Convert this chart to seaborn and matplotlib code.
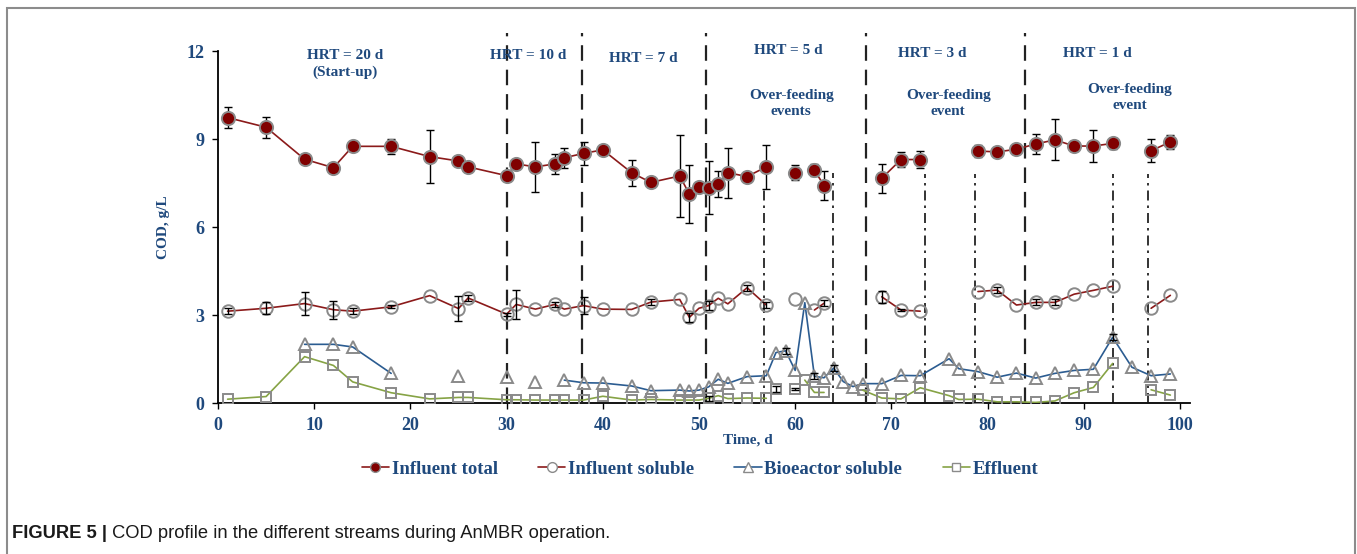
import numpy as np
import pandas as pd
import matplotlib
matplotlib.use("Agg")
import matplotlib.pyplot as plt
import seaborn as sns
from matplotlib.lines import Line2D
from matplotlib.patches import Rectangle

# ---------------- data ----------------
t_inf = [1, 5, 9, 12, 14, 18, 22, 25, 26, 30, 31, 33, 35, 36, 38, 40, 43, 45, 48, 49, 50,
         51, 52, 53, 55, 57, 60, 62, 63, 69, 71, 73, 79, 81, 83, 85, 87, 89, 91, 93, 97, 99]
seg_inf = [0] * 26 + [1] + [2, 2] + [3, 3, 3] + [4] * 8 + [5, 5]

total_v = [9.73, 9.40, 8.31, 8.02, 8.75, 8.75, 8.40, 8.25, 8.05, 7.75, 8.15, 8.05, 8.15, 8.36,
           8.51, 8.63, 7.85, 7.52, 7.74, 7.12, 7.35, 7.34, 7.47, 7.85, 7.72, 8.05, 7.85, 7.94,
           7.41, 7.66, 8.30, 8.30, 8.59, 8.56, 8.65, 8.83, 8.97, 8.76, 8.76, 8.85, 8.60, 8.90]
total_err = [0.35, 0.35, 0, 0, 0, 0.25, 0.9, 0, 0, 0, 0, 0.85, 0.35, 0.35, 0.4, 0.15, 0.45,
             0.15, 1.4, 1.0, 0, 0.9, 0.45, 0.85, 0.15, 0.75, 0.25, 0.2, 0.5, 0.5, 0.25, 0.3,
             0.2, 0, 0, 0.35, 0.7, 0, 0.55, 0.2, 0.4, 0.25]

sol_v = [3.13, 3.23, 3.39, 3.18, 3.13, 3.28, 3.66, 3.22, 3.58, 3.03, 3.36, 3.20, 3.36, 3.20,
         3.32, 3.20, 3.19, 3.44, 3.53, 2.92, 3.23, 3.32, 3.57, 3.38, 3.93, 3.34, 3.53, 3.17,
         3.40, 3.62, 3.17, 3.13, 3.80, 3.85, 3.34, 3.43, 3.43, 3.71, 3.84, 3.98, 3.23, 3.67]
sol_err = [0.1, 0.2, 0.4, 0.3, 0.1, 0.05, 0, 0.43, 0.1, 0.05, 0.5, 0, 0.1, 0, 0.3, 0, 0, 0.1,
           0, 0.15, 0, 0.15, 0, 0, 0.1, 0.1, 0, 0, 0.1, 0.2, 0.05, 0, 0, 0.1, 0, 0.1, 0.1, 0,
           0, 0, 0, 0]

t_bio = [9, 12, 14, 18, 25, 30, 33, 36, 38, 40, 43, 45, 48, 49, 50, 51, 52, 53, 55, 57, 58,
         59, 60, 61, 62, 63, 64, 65, 66, 67, 69, 71, 73, 76, 77, 79, 81, 83, 85, 87, 89, 91,
         93, 95, 97, 99]
bio_v = [2.0, 2.0, 1.91, 1.01, 0.93, 0.88, 0.73, 0.78, 0.69, 0.68, 0.58, 0.42, 0.44, 0.41,
         0.44, 0.55, 0.81, 0.67, 0.90, 0.93, 1.72, 1.78, 1.11, 3.42, 0.91, 0.86, 1.19, 0.73,
         0.56, 0.66, 0.66, 0.94, 0.93, 1.51, 1.17, 1.07, 0.88, 1.02, 0.85, 1.01, 1.11, 1.15,
         2.24, 1.22, 0.93, 0.99]
bio_err = [0] * 21 + [0.1] + [0, 0, 0.1, 0, 0.1] + [0] * 15 + [0.1, 0, 0, 0]
seg_bio = [0, 0, 0, 0, 1, 2, 3] + [4] * 39

t_eff = [1, 5, 9, 12, 14, 18, 22, 25, 26, 30, 31, 33, 35, 36, 38, 40, 43, 45, 48, 49, 50,
         51, 52, 53, 55, 57, 58, 60, 61, 62, 63, 67, 69, 71, 73, 76, 77, 79, 81, 83, 85, 87,
         89, 91, 93, 97, 99]
eff_v = [0.13, 0.22, 1.58, 1.28, 0.72, 0.35, 0.14, 0.19, 0.19, 0.11, 0.11, 0.10, 0.10, 0.10,
         0.10, 0.23, 0.10, 0.12, 0.10, 0.10, 0.10, 0.16, 0.25, 0.15, 0.17, 0.16, 0.48, 0.48,
         0.78, 0.36, 0.36, 0.44, 0.17, 0.14, 0.52, 0.25, 0.12, 0.13, 0.04, 0.04, 0.02, 0.07,
         0.35, 0.53, 1.35, 0.45, 0.27]
eff_err = [0] * 21 + [0.08] + [0] * 4 + [0.1, 0.04] + [0] * 19
seg_eff = [0] * 26 + [1, 2] + [3, 3, 3] + [4] * 14 + [5, 5]

hrt_bounds = [30, 37.8, 50.7, 67.4, 83.9]
overfeed_x = [56.8, 63.9, 73.5, 78.7, 93.0, 96.7]
overfeed_top = [7.35, 7.85, 7.8, 7.8, 7.8, 7.8]

labels = ["Influent total", "Influent soluble", "Bioeactor soluble", "Effluent"]

# ---------------- style ----------------
sns.set_theme(style="white")
plt.rcParams["font.family"] = ["Liberation Serif", "DejaVu Serif"]
BLUE = "#1F497D"
RED_LINE = "#8B1A1A"
RED_FILL = "#800000"
BIO_LINE = "#2B5C91"
EFF_LINE = "#86A345"
EDGE = "#8A8A8A"

W, H = 1357, 554
fig = plt.figure(figsize=(W / 100, H / 100), dpi=100)
ax = fig.add_axes([218 / W, 1 - 403 / H, 971.6 / W, 352 / H])


def draw(t, v, err, seg, lcolor, marker, ms, mfc, z, err_z):
    df = pd.DataFrame(dict(t=t, v=v, seg=seg))
    sns.lineplot(data=df, x="t", y="v", units="seg", estimator=None, sort=False,
                 color=lcolor, lw=1.2, marker=marker, markersize=ms,
                 markerfacecolor=mfc, markeredgecolor=EDGE, markeredgewidth=1.4,
                 ax=ax, legend=False, zorder=z)
    t_a, v_a, e_a = np.array(t), np.array(v), np.array(err)
    m = e_a > 0
    ax.errorbar(t_a[m], v_a[m], yerr=e_a[m], fmt="none", ecolor="black",
                elinewidth=1.0, capsize=3, capthick=1.0, zorder=err_z)


draw(t_inf, total_v, total_err, seg_inf, RED_LINE, "o", 9.5, RED_FILL, 5, 4)
draw(t_inf, sol_v, sol_err, seg_inf, RED_LINE, "o", 9, "none", 5, 6)
draw(t_bio, bio_v, bio_err, seg_bio, BIO_LINE, "^", 9, "none", 5, 6)
draw(t_eff, eff_v, eff_err, seg_eff, EFF_LINE, "s", 6.5, "none", 5, 6)

# vertical HRT boundaries and over-feeding markers
for xb in hrt_bounds:
    ax.plot([xb, xb], [0, 12.6], ls=(0, (7, 4)), color="#222222", lw=1.6,
            clip_on=False, zorder=3)
for xo, top in zip(overfeed_x, overfeed_top):
    ax.plot([xo, xo], [0, top], ls=(0, (6, 3, 1.5, 3)), color="#111111", lw=1.2, zorder=3)

ax.set_xlim(0, 101)
ax.set_ylim(0, 12)
ax.set_xticks(range(0, 101, 10))
ax.set_yticks([0, 3, 6, 9, 12])
ax.set_xlabel("")
ax.set_ylabel("")
for s in ["top", "right"]:
    ax.spines[s].set_visible(False)
for s in ["left", "bottom"]:
    ax.spines[s].set_color("black")
    ax.spines[s].set_linewidth(1.3)
ax.tick_params(axis="both", direction="out", length=4, width=1, color="black",
               labelcolor=BLUE, labelsize=13, bottom=True, left=True)
for lab in ax.get_xticklabels() + ax.get_yticklabels():
    lab.set_fontweight("bold")
ax.tick_params(axis="x", pad=6)
ax.tick_params(axis="y", pad=6)

ax.text(0.545, -0.105, "Time, d", transform=ax.transAxes, ha="center", va="center",
        fontsize=11, fontweight="bold", color=BLUE)
ax.text(-0.0566, 0.5, "COD, g/L", transform=ax.transAxes, ha="center", va="center",
        rotation=90, fontsize=11, fontweight="bold", color=BLUE)

ann = dict(ha="center", va="center", fontsize=11, fontweight="bold", color=BLUE,
           clip_on=False)
ax.text(13.2, 11.83, "HRT = 20 d", **ann)
ax.text(13.2, 11.29, "(Start-up)", **ann)
ax.text(32.2, 11.83, "HRT = 10 d", **ann)
ax.text(44.2, 11.76, "HRT = 7 d", **ann)
ax.text(59.3, 12.0, "HRT = 5 d", **ann)
ax.text(59.6, 10.22, "Over-feeding\nevents", linespacing=1.3, **ann)
ax.text(74.2, 11.93, "HRT = 3 d", **ann)
ax.text(75.9, 10.22, "Over-feeding\nevent", linespacing=1.3, **ann)
ax.text(91.4, 11.93, "HRT = 1 d", **ann)
ax.text(94.8, 10.42, "Over-feeding\nevent", linespacing=1.3, **ann)

# legend
handles = [
    Line2D([], [], color=RED_LINE, lw=1.2, marker="o", ms=7, mfc=RED_FILL, mec=EDGE),
    Line2D([], [], color=RED_LINE, lw=1.2, marker="o", ms=7, mfc="white", mec=EDGE),
    Line2D([], [], color=BIO_LINE, lw=1.2, marker="^", ms=7, mfc="white", mec=EDGE),
    Line2D([], [], color=EFF_LINE, lw=1.2, marker="s", ms=6, mfc="white", mec=EDGE),
]
leg = ax.legend(handles, labels, loc="center", bbox_to_anchor=(0.496, -0.1875), ncol=4,
                frameon=False, handlelength=1.45, handletextpad=0.15, columnspacing=2.15,
                prop=dict(family="Liberation Serif", weight="bold", size=13.5))
for txt in leg.get_texts():
    txt.set_color(BLUE)

# figure frame and caption
fig.add_artist(Rectangle((7 / W, -0.1), 1348 / W, 1.1 - 8 / H, transform=fig.transFigure,
                         fill=False, ec="#8C8C8C", lw=1.5))
t1 = fig.text(12 / W, 1 - 533 / H, "FIGURE 5 |", fontsize=13.2, fontweight="bold",
              family="Liberation Sans", color="#1a1a1a", va="center", ha="left")
fig.canvas.draw()
bb = t1.get_window_extent()
fig.text(bb.x1 / W, 1 - 533 / H, " COD profile in the different streams during AnMBR operation.",
         fontsize=13.2, family="Liberation Sans", color="#1a1a1a", va="center", ha="left")

fig.savefig("out.png", dpi=100)
